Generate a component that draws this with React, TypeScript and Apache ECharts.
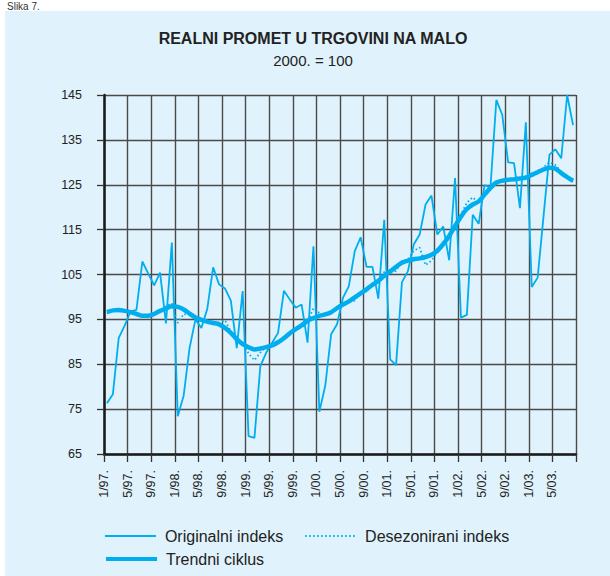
import React, { useEffect, useRef } from 'react';
import * as echarts from 'echarts';

// Tick labels on the time axis (every 4 months, ticks at month boundaries)
const tickLabels = [
  '1/97.', '5/97.', '9/97.', '1/98.', '5/98.', '9/98.', '1/99.', '5/99.', '9/99.', '1/00.',
  '5/00.', '9/00.', '1/01.', '5/01.', '9/01.', '1/02.', '5/02.', '9/02.', '1/03.', '5/03.',
];

// Monthly values 1/97 .. 8/03 (80 months)
const originalIndex = [
  76.3, 78.3, 90.9, 93.6, 96.8, 97.1, 107.9, 105.2, 102.6, 105.4, 94.1, 112.1,
  73.4, 78.0, 88.6, 95.0, 93.1, 97.3, 106.6, 102.8, 101.9, 99.2, 88.6, 101.3,
  69.0, 68.6, 84.6, 87.6, 89.8, 92.0, 101.4, 99.4, 97.6, 98.3, 89.8, 111.3,
  74.4, 80.2, 91.7, 93.9, 99.8, 102.4, 110.2, 113.3, 106.7, 106.7, 99.6, 117.2,
  86.1, 84.8, 103.3, 105.7, 111.7, 113.9, 120.6, 122.6, 113.9, 115.7, 108.2, 126.5,
  95.4, 96.0, 118.3, 116.3, 124.9, 124.4, 143.9, 140.6, 130.0, 129.8, 119.8, 138.9,
  102.2, 104.3, 118.0, 131.7, 132.9, 130.9, 145.0, 138.3,
];

const deseasonalIndex = [
  96.3, 97.2, 96.8, 97.1, 96.4, 96.0, 95.9, 95.6, 96.5, 96.7, 97.9, 98.6,
  94.2, 96.2, 96.0, 95.2, 94.6, 94.3, 94.0, 94.3, 94.8, 92.3, 90.0, 89.8,
  87.4, 85.9, 87.6, 88.9, 89.4, 89.7, 91.2, 91.6, 92.9, 93.1, 94.4, 97.5,
  96.4, 96.0, 96.8, 97.3, 98.6, 98.8, 99.2, 101.1, 101.4, 102.9, 103.2, 105.6,
  105.3, 105.8, 108.0, 108.3, 110.3, 111.0, 107.1, 108.1, 110.0, 111.5, 113.2, 116.1,
  118.4, 121.0, 122.2, 121.0, 122.5, 124.6, 125.2, 126.1, 125.8, 126.4, 126.1, 126.9,
  127.0, 127.5, 128.9, 130.0, 129.4, 127.9, 126.5, 125.7,
];

const trendCycle = [
  96.6, 97.0, 97.1, 96.9, 96.6, 96.2, 95.8, 95.8, 96.2, 96.9, 97.4, 97.9,
  97.8, 97.2, 96.3, 95.4, 94.9, 94.5, 94.2, 93.9, 93.1, 92.0, 90.6, 89.5,
  88.8, 88.3, 88.5, 88.8, 89.2, 89.9, 90.8, 91.9, 92.8, 93.7, 94.7, 95.3,
  95.8, 96.1, 96.6, 97.5, 98.3, 99.0, 99.9, 100.8, 101.7, 102.7, 103.6, 104.7,
  105.7, 106.7, 107.6, 108.1, 108.4, 108.6, 108.9, 109.4, 110.3, 111.8, 113.6, 115.8,
  117.9, 119.6, 120.6, 121.3, 122.8, 124.3, 125.5, 125.9, 126.1, 126.2, 126.4, 126.6,
  127.2, 127.8, 128.4, 128.8, 128.6, 127.6, 126.7, 125.9,
];

const seriesNames = ['Originalni indeks', 'Desezonirani indeks', 'Trendni ciklus'];

// each month is plotted at the middle of its month slot
const toPoints = (arr: number[]) => arr.map((v, i) => [i + 0.5, v]);

const FONT = 'Liberation Sans, Arial, Helvetica, sans-serif';
const LINE = '#00AEEF';
const GRIDC = '#4a4a4a';

export default function App() {
  const ref = useRef<HTMLDivElement>(null);

  useEffect(() => {
    if (!ref.current) return;
    const chart = echarts.init(ref.current, undefined, { renderer: 'svg' });
    const legendText = { fontSize: 16, color: '#222', fontFamily: FONT, padding: [0, 0, 0, 4] };
    const option: any = {
      animation: false,
      backgroundColor: '#E0F2FC',
      textStyle: { fontFamily: FONT },
      grid: { left: 104, top: 95, width: 472, height: 359, containLabel: false, outerBoundsMode: 'none' },
      graphic: [
        { type: 'rect', shape: { x: 0, y: 0, width: 5, height: 576 }, style: { fill: '#ffffff' }, silent: true },
        { type: 'rect', shape: { x: 0, y: 0, width: 610, height: 11 }, style: { fill: '#ffffff' }, silent: true },
        {
          type: 'text', x: 7, y: 1,
          style: { text: 'Slika 7.', fontSize: 10, fontFamily: FONT, fill: '#333', align: 'left', verticalAlign: 'top' },
        },
        {
          type: 'text', x: 313, y: 38,
          style: { text: 'REALNI PROMET U TRGOVINI NA MALO', fontSize: 16, fontWeight: 'bold', fontFamily: FONT, fill: '#222', align: 'center', verticalAlign: 'middle' },
        },
        {
          type: 'text', x: 313, y: 60,
          style: { text: '2000. = 100', fontSize: 15, fontFamily: FONT, fill: '#222', align: 'center', verticalAlign: 'middle' },
        },
      ],
      legend: [
        {
          data: [seriesNames[0], seriesNames[1]],
          left: 104, top: 528, padding: 0,
          itemWidth: 51, itemHeight: 14, itemGap: 21,
          itemStyle: { opacity: 0 },
          lineStyle: { width: 1.8 },
          textStyle: legendText,
        },
        {
          data: [seriesNames[2]],
          left: 104, top: 551, padding: 0,
          itemWidth: 51, itemHeight: 14,
          itemStyle: { opacity: 0 },
          lineStyle: { width: 4 },
          textStyle: legendText,
        },
      ],
      xAxis: {
        type: 'value', min: 0, max: 80, interval: 4,
        axisLine: { show: true, onZero: false, lineStyle: { color: '#1a1a1a', width: 2.5 } },
        axisTick: { show: true, length: 8, lineStyle: { color: '#333', width: 1.3 } },
        axisLabel: {
          rotate: 90, margin: 16, fontSize: 12.5, color: '#222', fontFamily: FONT,
          formatter: (v: number) => tickLabels[Math.round(v / 4)] ?? '',
        },
        splitLine: { show: true, lineStyle: { color: GRIDC, width: 1.4 } },
      },
      yAxis: {
        type: 'value', min: 65, max: 145, interval: 10,
        axisLine: { show: true, lineStyle: { color: '#1a1a1a', width: 2.5 } },
        axisTick: { show: true, length: 7, lineStyle: { color: '#333', width: 1.3 } },
        axisLabel: { margin: 22, fontSize: 12.5, color: '#222', fontFamily: FONT },
        splitLine: { show: true, lineStyle: { color: GRIDC, width: 1.4 } },
      },
      series: [
        {
          name: seriesNames[0], type: 'line', data: toPoints(originalIndex),
          symbol: 'none', lineStyle: { color: LINE, width: 1.8 }, itemStyle: { color: LINE }, z: 3,
        },
        {
          name: seriesNames[1], type: 'line', data: toPoints(deseasonalIndex),
          symbol: 'none', lineStyle: { color: LINE, width: 1.8, type: [1.6, 2.4] }, itemStyle: { color: LINE }, z: 4,
        },
        {
          name: seriesNames[2], type: 'line', data: toPoints(trendCycle), smooth: 0.3,
          symbol: 'none', lineStyle: { color: LINE, width: 4.5 }, itemStyle: { color: LINE }, z: 5,
        },
      ],
    };
    chart.setOption(option);
    return () => chart.dispose();
  }, []);

  return (
    <div
      ref={ref}
      style={{ position: 'absolute', left: 0, top: 0, width: 610, height: 576, background: '#ffffff' }}
    />
  );
}
